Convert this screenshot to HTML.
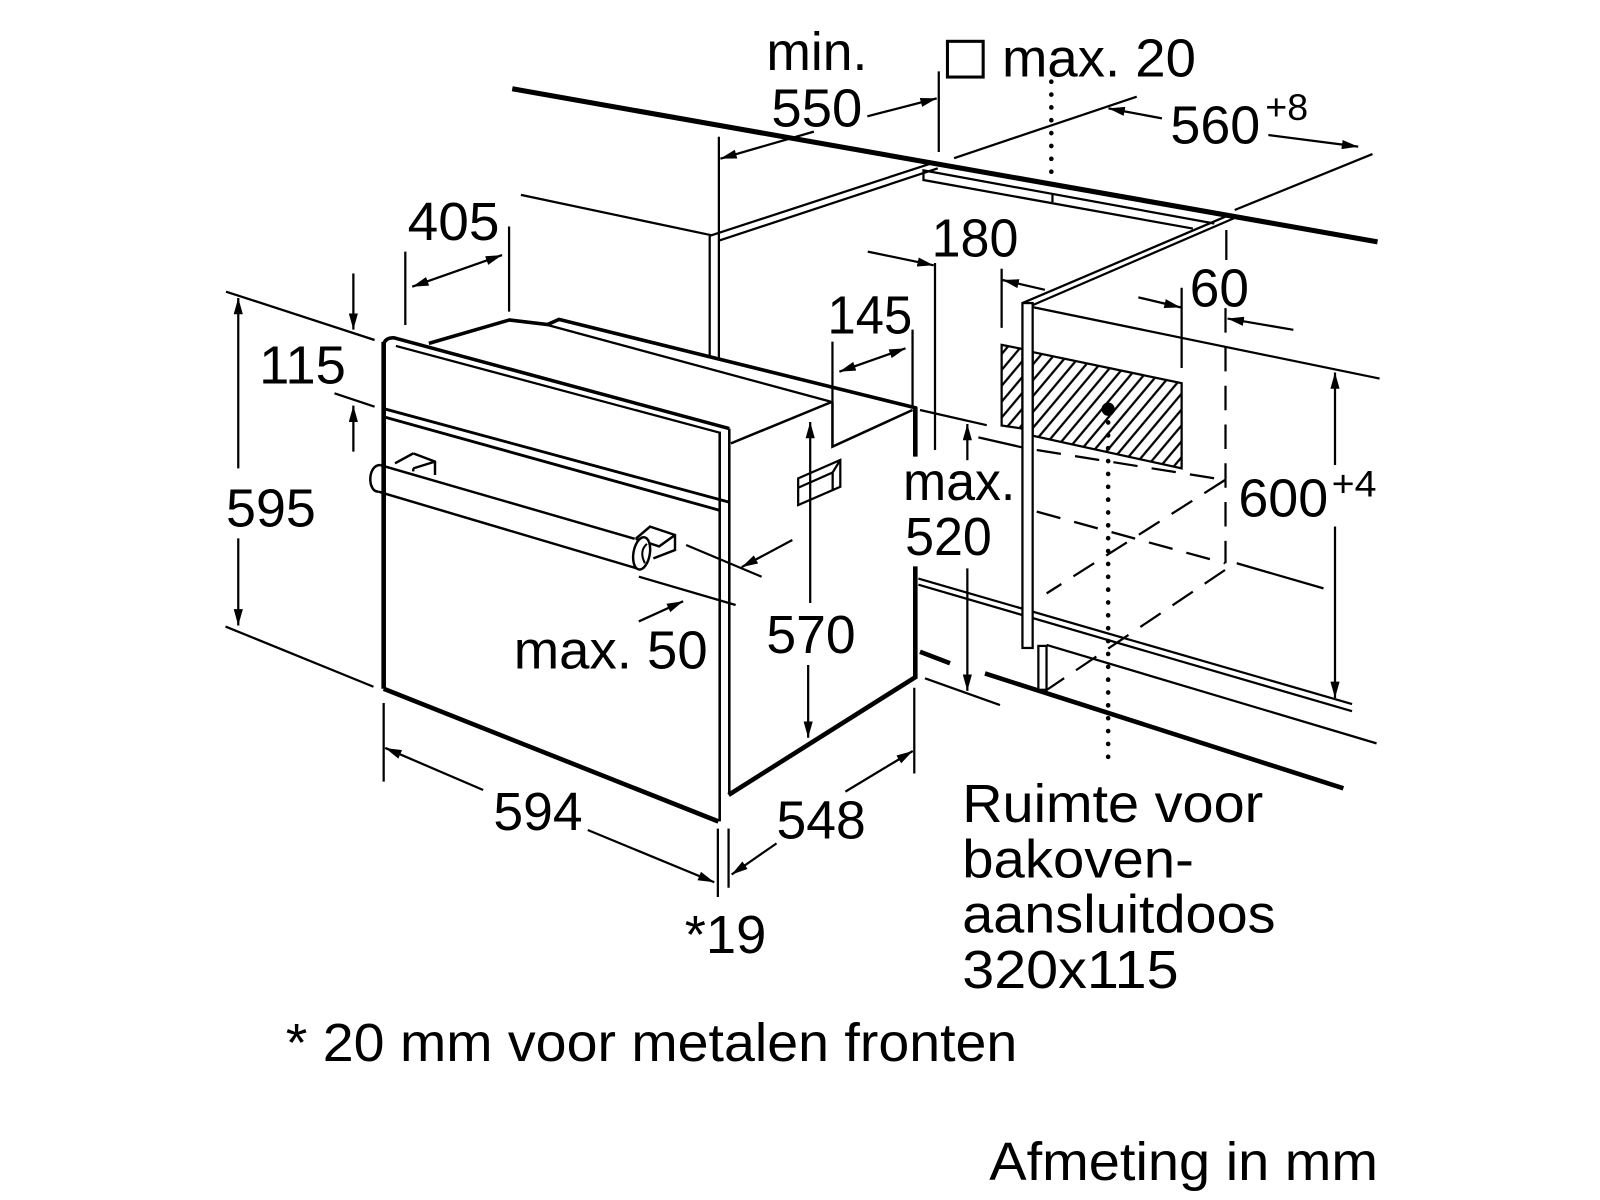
<!DOCTYPE html>
<html><head><meta charset="utf-8"><style>html,body{margin:0;padding:0;background:#fff}svg{display:block}</style></head>
<body>
<svg xmlns="http://www.w3.org/2000/svg" width="1600" height="1200" viewBox="0 0 1568 1176">
<defs>
<marker id="a" viewBox="0 0 16 9" refX="16" refY="4.5" markerWidth="16" markerHeight="9" orient="auto-start-reverse" markerUnits="userSpaceOnUse"><path d="M0,0 L16,4.5 L0,9 z" fill="#000"/></marker>
<pattern id="h" patternUnits="userSpaceOnUse" width="10" height="10" patternTransform="rotate(40)"><line x1="5" y1="-1" x2="5" y2="11" stroke="#000" stroke-width="2.2"/></pattern>
</defs>
<rect width="1568" height="1176" fill="#fff"/>
<g stroke="#000" fill="none" stroke-width="2.2">
<!-- counter top -->
<line x1="502" y1="87" x2="1350" y2="237" stroke-width="5"/>
<!-- cabinet left -->
<line x1="510.5" y1="191" x2="697" y2="230.5"/>
<line x1="696" y1="231" x2="913" y2="160"/>
<line x1="704" y1="236" x2="919" y2="165"/>
<line x1="695.5" y1="231" x2="695.5" y2="350"/>
<line x1="704.5" y1="134" x2="704.5" y2="352"/>
<line x1="920" y1="70" x2="920" y2="149"/>
<!-- strip under counter -->
<polyline points="1190,219 905,167 905,176.4 1169,224"/>
<line x1="1031.4" y1="189.5" x2="1031.4" y2="198"/>
<!-- right cabinet -->
<line x1="1204" y1="211" x2="1002" y2="297"/>
<line x1="1209" y1="214" x2="1012" y2="299"/>
<line x1="1012" y1="301" x2="1352" y2="371"/>
<!-- 560 -->
<line x1="935" y1="155" x2="1114" y2="94.7"/>
<line x1="1210" y1="205.8" x2="1345" y2="151"/>
<line x1="1138.7" y1="116" x2="1086.3" y2="106.2" marker-end="url(#a)"/>
<line x1="1243" y1="132.3" x2="1331" y2="143.7" marker-end="url(#a)"/>
<!-- 550 -->
<line x1="850" y1="114" x2="918" y2="96.4" marker-end="url(#a)"/>
<line x1="797.6" y1="129" x2="706" y2="155.5" marker-end="url(#a)"/>
<!-- 405 -->
<line x1="397.2" y1="246.6" x2="397.2" y2="318.5"/>
<line x1="498.9" y1="222" x2="498.9" y2="305.4"/>
<line x1="404" y1="281" x2="492" y2="250" marker-start="url(#a)" marker-end="url(#a)"/>
<!-- 115 / 595 -->
<line x1="221.5" y1="285.8" x2="367.1" y2="333.2"/>
<line x1="327.8" y1="385.5" x2="367.1" y2="398.5"/>
<line x1="221" y1="614" x2="366" y2="673"/>
<line x1="346.3" y1="268" x2="346.3" y2="323" marker-end="url(#a)"/>
<line x1="346.3" y1="442.6" x2="346.3" y2="397.5" marker-end="url(#a)"/>
<line x1="233.5" y1="459" x2="233.5" y2="292" marker-end="url(#a)"/>
<line x1="233.5" y1="527.6" x2="233.5" y2="613" marker-end="url(#a)"/>
<!-- 180 -->
<line x1="916.3" y1="257.8" x2="916.3" y2="441"/>
<line x1="981.6" y1="263.3" x2="981.6" y2="321.3"/>
<line x1="850.4" y1="246.6" x2="915" y2="260" marker-end="url(#a)"/>
<line x1="1024" y1="284" x2="982.5" y2="274.4" marker-end="url(#a)"/>
<!-- 145 -->
<line x1="815.8" y1="334.8" x2="815.8" y2="393.6"/>
<line x1="894.3" y1="323" x2="894.3" y2="400"/>
<line x1="822.6" y1="364.2" x2="887.4" y2="341.4" marker-start="url(#a)" marker-end="url(#a)"/>
<!-- 60 -->
<line x1="1158" y1="282" x2="1158" y2="360.7"/>
<line x1="1201.8" y1="225.4" x2="1201.8" y2="254.8"/>
<line x1="1115.6" y1="291.4" x2="1157" y2="301.2" marker-end="url(#a)"/>
<line x1="1267.5" y1="323.2" x2="1203" y2="312.2" marker-end="url(#a)"/>
<!-- hatched box -->
<polygon points="981.6,338 1002,342 1002,420 981.6,417" fill="url(#h)"/>
<polygon points="1012,345 1158,375.5 1158,459 1012,427" fill="url(#h)"/>
<!-- lines around cavity -->
<line x1="901.6" y1="401.8" x2="967" y2="416.7"/>
<line x1="958.8" y1="428.6" x2="1002" y2="438.5"/>
<line x1="1212" y1="552" x2="1297" y2="576.6"/>
<g stroke-dasharray="24 14">
<line x1="1016" y1="441" x2="1200.5" y2="470.4"/>
<line x1="1016" y1="501.4" x2="1200.5" y2="552"/>
<line x1="1200.5" y1="470.4" x2="1025.7" y2="581.5"/>
<line x1="1200.5" y1="558.6" x2="1025.7" y2="676.2"/>
<line x1="1201" y1="302" x2="1201" y2="552"/>
</g>
<!-- floor lines -->
<line x1="900" y1="567" x2="1325" y2="690"/>
<line x1="900" y1="573" x2="1325" y2="697"/>
<line x1="1025.7" y1="632" x2="1349" y2="728.5"/>
<line x1="901.6" y1="638.7" x2="931" y2="650" stroke-width="4.5"/>
<line x1="965.3" y1="660" x2="1316.5" y2="772.6" stroke-width="4.5"/>
<line x1="906.5" y1="664.8" x2="980" y2="691"/>
<!-- panel -->
<rect x="1002" y="297" width="10" height="338" fill="#fff"/>
<rect x="1017.6" y="633" width="8" height="43" fill="#fff"/>
<!-- 600 -->
<line x1="1308.3" y1="455.7" x2="1308.3" y2="365" marker-end="url(#a)"/>
<line x1="1308.3" y1="516" x2="1308.3" y2="684" marker-end="url(#a)"/>
<!-- max 520 -->
<line x1="948" y1="451" x2="948" y2="415.5" marker-end="url(#a)"/>
<line x1="948" y1="557" x2="948" y2="677" marker-end="url(#a)"/>
<!-- dotted -->
<g stroke-width="4.5" stroke-linecap="round" stroke-dasharray="0.1 12.5">
<line x1="1030.3" y1="80" x2="1030.3" y2="173"/>
<line x1="1086" y1="414" x2="1086" y2="751"/>
</g>
<circle cx="1086" cy="401" r="6.5" fill="#000" stroke="none"/>
<!-- oven -->
<line x1="376" y1="335" x2="376" y2="675" stroke-width="4.5"/>
<line x1="376" y1="675" x2="704" y2="805" stroke-width="4.5"/>
<path d="M376,338 Q377,331 386,331 L714.7,420" stroke-width="3.5"/>
<line x1="388" y1="339" x2="705.3" y2="424"/>
<line x1="705.3" y1="423" x2="705.3" y2="805" stroke-width="2.5"/>
<line x1="714.7" y1="420" x2="714.7" y2="778" stroke-width="2.5"/>
<line x1="378" y1="401" x2="714" y2="492" stroke-width="2.8"/>
<line x1="378" y1="409" x2="705" y2="500" stroke-width="2.8"/>
<polyline points="420.3,336.5 499,313.6 536.6,318 547.8,313 898.5,400" stroke-width="3.5"/>
<line x1="536.6" y1="318.5" x2="814" y2="393.6"/>
<line x1="716.3" y1="434.5" x2="815.8" y2="393.6" stroke-width="2.5"/>
<polyline points="815.8,393.6 815.8,437.7 894.3,401.8" stroke-width="2.5"/>
<line x1="897" y1="399" x2="897" y2="447.5" stroke-width="4.5"/>
<line x1="897" y1="555" x2="897" y2="665" stroke-width="4.5"/>
<line x1="714" y1="779" x2="898" y2="663" stroke-width="4.5"/>
<!-- hinge -->
<polygon points="782.2,468.8 823.5,450.8 823.5,477 782.2,494.9"/>
<polyline points="782.2,478 816,463 816,481"/>
<line x1="816" y1="463" x2="823.5" y2="450.8"/>
<!-- handle -->
<path d="M405,444.3 L426.3,452.4 L426.3,465.5 M387.1,454 L405,444.3 M405,459 L426.3,452.4 M405,459 L405,462" stroke-width="2.4"/>
<line x1="372.4" y1="455.7" x2="622" y2="528" stroke-width="2.4"/>
<line x1="370.8" y1="481.8" x2="624" y2="557" stroke-width="2.4"/>
<path d="M372.4,455.7 C360,456 360,482 370.8,481.8" stroke-width="2.4"/>
<path d="M623,528 L637,516.1 L661.5,524.3 L661.5,539 L640.3,547.2 M623,528 L646,535.5 L661.5,524.3" stroke-width="2.4" fill="#fff"/>
<ellipse cx="628.8" cy="542.3" rx="8" ry="16" transform="rotate(10 628.8 542.3)" fill="#fff" stroke-width="2.4"/>
<path d="M634,533 Q626,540 632,552" stroke-width="2"/>
<!-- max 50 -->
<line x1="672.4" y1="534.1" x2="746.4" y2="565.2"/>
<line x1="626.1" y1="565.2" x2="720.9" y2="592.9"/>
<line x1="776.5" y1="529.2" x2="726.8" y2="555.8" marker-end="url(#a)"/>
<line x1="626" y1="609" x2="669.5" y2="589.2" marker-end="url(#a)"/>
<!-- 570 -->
<line x1="794" y1="591" x2="794" y2="413.5" marker-end="url(#a)"/>
<line x1="792" y1="651.7" x2="792" y2="723" marker-end="url(#a)"/>
<!-- 594 / 548 -->
<line x1="376" y1="689" x2="376" y2="766"/>
<line x1="703.5" y1="812" x2="703.5" y2="879"/>
<line x1="714" y1="812" x2="714" y2="870"/>
<line x1="896" y1="674" x2="896" y2="758"/>
<line x1="473.5" y1="774.2" x2="377.5" y2="733" marker-end="url(#a)"/>
<line x1="576" y1="813.4" x2="700" y2="864.6" marker-end="url(#a)"/>
<line x1="761" y1="826.5" x2="717" y2="857" marker-end="url(#a)"/>
<line x1="828.5" y1="775.8" x2="894.5" y2="736" marker-end="url(#a)"/>
<!-- square symbol -->
<rect x="928.5" y="40.5" width="35" height="35" stroke-width="3"/>
</g>
<g fill="#000" font-family="'Liberation Sans', Arial, sans-serif" font-size="53">
<text x="751" y="68.6" textLength="99" lengthAdjust="spacingAndGlyphs">min.</text>
<text x="756" y="124" textLength="89" lengthAdjust="spacingAndGlyphs">550</text>
<text x="982" y="75" textLength="190" lengthAdjust="spacingAndGlyphs">max. 20</text>
<text x="1147" y="140.5" textLength="88" lengthAdjust="spacingAndGlyphs">560</text>
<text x="1240" y="117.6" font-size="36" textLength="42" lengthAdjust="spacingAndGlyphs">+8</text>
<text x="399.5" y="235" textLength="90" lengthAdjust="spacingAndGlyphs">405</text>
<text x="913" y="251.5" textLength="85" lengthAdjust="spacingAndGlyphs">180</text>
<text x="811" y="326.7" textLength="83" lengthAdjust="spacingAndGlyphs">145</text>
<text x="1166" y="300.5" textLength="58" lengthAdjust="spacingAndGlyphs">60</text>
<text x="254" y="375.7" textLength="85" lengthAdjust="spacingAndGlyphs">115</text>
<text x="221.5" y="516" textLength="88" lengthAdjust="spacingAndGlyphs">595</text>
<text x="885" y="490" textLength="110" lengthAdjust="spacingAndGlyphs">max.</text>
<text x="887" y="544" textLength="85" lengthAdjust="spacingAndGlyphs">520</text>
<text x="1213.6" y="506.3" textLength="88" lengthAdjust="spacingAndGlyphs">600</text>
<text x="1305" y="486.7" font-size="36" textLength="44" lengthAdjust="spacingAndGlyphs">+4</text>
<text x="503.5" y="655" textLength="190" lengthAdjust="spacingAndGlyphs">max. 50</text>
<text x="751" y="640" textLength="87.5" lengthAdjust="spacingAndGlyphs">570</text>
<text x="483.5" y="813.4" textLength="87.5" lengthAdjust="spacingAndGlyphs">594</text>
<text x="761" y="821.6" textLength="87.5" lengthAdjust="spacingAndGlyphs">548</text>
<text x="671" y="934" textLength="80" lengthAdjust="spacingAndGlyphs">*19</text>
<text x="943" y="805.5" textLength="295" lengthAdjust="spacingAndGlyphs">Ruimte voor</text>
<text x="943" y="860" textLength="227" lengthAdjust="spacingAndGlyphs">bakoven-</text>
<text x="943" y="914" textLength="307" lengthAdjust="spacingAndGlyphs">aansluitdoos</text>
<text x="943" y="968" textLength="212" lengthAdjust="spacingAndGlyphs">320x115</text>
<text x="280" y="1040" textLength="717" lengthAdjust="spacingAndGlyphs">* 20 mm voor metalen fronten</text>
<text x="969.5" y="1156.4" textLength="381" lengthAdjust="spacingAndGlyphs">Afmeting in mm</text>
</g>
</svg>
</body></html>
